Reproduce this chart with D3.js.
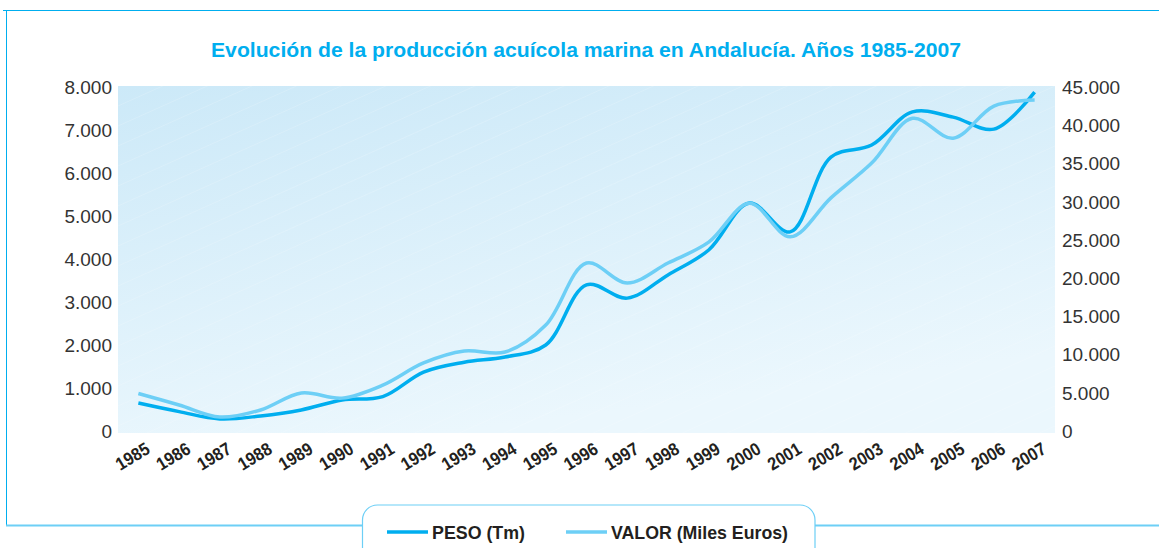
<!DOCTYPE html>
<meta charset="utf-8">
<style>
    body { margin: 0; background: #fff; }
    svg { display: block; }
    .narrow { font-family: "Liberation Sans", Arial, sans-serif; font-weight: bold; }
    .ytick { font-family: "Liberation Sans", Arial, sans-serif; font-size: 19px; fill: #333; }
</style>
<svg width="1159" height="548"></svg>
<script src="https://cdn.jsdelivr.net/npm/d3@7"></script>
<script>

    var years = ["1985", "1986", "1987", "1988", "1989", "1990", "1991", "1992", "1993", "1994", "1995", "1996",
        "1997", "1998", "1999", "2000", "2001", "2002", "2003", "2004", "2005", "2006", "2007"];

    // PESO (Tm), left axis
    var peso = [650, 450, 280, 350, 490, 720, 800, 1370, 1600, 1720, 2000, 3400,
        3090, 3630, 4210, 5300, 4630, 6370, 6650, 7420, 7300, 7020, 7880];

    // VALOR (Miles Euros), right axis
    var valor = [4900, 3400, 1830, 2750, 4970, 4300, 6000, 8900, 10460, 10330, 13860, 21970,
        19360, 21970, 24700, 29800, 25400, 30500, 35050, 40900, 38300, 42500, 43300];

    var leftTicks = [0, 1000, 2000, 3000, 4000, 5000, 6000, 7000, 8000];
    var rightTicks = [0, 5000, 10000, 15000, 20000, 25000, 30000, 35000, 40000, 45000];

    var svg = d3.select("svg");
    var fmt = function (v) { return v === 0 ? "0" : d3.format(",")(v).replace(/,/g, "."); };

    var x = d3.scaleBand().domain(years).range([118, 1055]);
    var yL = d3.scaleLinear().domain([0, 8000]).range([431, 87]);
    var yR = d3.scaleLinear().domain([0, 45000]).range([431, 87]);

    // frame
    svg.append("path")
        .attr("d", "M3,10.5H1159M6.5,10V525")
        .attr("fill", "none").attr("stroke", "#00aeef").attr("stroke-width", 1);
    svg.append("path")
        .attr("d", "M6,525.5H362M815,525.5H1159")
        .attr("fill", "none").attr("stroke", "#6dcff6").attr("stroke-width", 2);

    // title
    svg.append("text")
        .attr("class", "narrow")
        .attr("x", 211).attr("y", 57)
        .attr("textLength", 750).attr("lengthAdjust", "spacingAndGlyphs")
        .style("font-size", "21px")
        .attr("fill", "#00aeef")
        .text("Evolución de la producción acuícola marina en Andalucía. Años 1985-2007");

    // plot background
    var defs = svg.append("defs");
    var grad = defs.append("linearGradient").attr("id", "bg")
        .attr("x1", "0").attr("y1", "0").attr("x2", "0.35").attr("y2", "1");
    grad.append("stop").attr("offset", "0").attr("stop-color", "#cce9f8");
    grad.append("stop").attr("offset", "1").attr("stop-color", "#ebf7fd");
    defs.append("clipPath").attr("id", "clip")
        .append("rect").attr("x", 118).attr("y", 86).attr("width", 937).attr("height", 347);

    svg.append("rect")
        .attr("x", 118).attr("y", 86).attr("width", 937).attr("height", 347)
        .attr("fill", "url(#bg)");

    // faint diagonal stripes
    var stripes = svg.append("g").attr("clip-path", "url(#clip)");
    d3.range(-40, 60).forEach(function (i) {
        var y0 = 86 + i * 20;
        stripes.append("line")
            .attr("x1", 118).attr("y1", y0 + 420)
            .attr("x2", 1055).attr("y2", y0)
            .attr("stroke", "#ffffff").attr("stroke-opacity", 0.25).attr("stroke-width", 0.7);
    });

    // y axes
    svg.append("g").selectAll("text").data(leftTicks).enter().append("text")
        .attr("class", "ytick")
        .attr("x", 112).attr("y", function (d) { return yL(d); })
        .attr("dy", "0.36em").attr("text-anchor", "end")
        .text(fmt);

    svg.append("g").selectAll("text").data(rightTicks).enter().append("text")
        .attr("class", "ytick")
        .attr("x", 1062).attr("y", function (d) { return yR(d); })
        .attr("dy", "0.36em").attr("text-anchor", "start")
        .text(fmt);

    // x labels
    svg.append("g").selectAll("text").data(years).enter().append("text")
        .attr("class", "narrow")
        .style("font-size", "18px")
        .attr("fill", "#231f20")
        .attr("textLength", 36).attr("lengthAdjust", "spacingAndGlyphs")
        .attr("transform", function (d) {
            return "translate(" + (x(d) + x.bandwidth() / 2 - 18) + ",471) rotate(-31)";
        })
        .text(function (d) { return d; });

    // lines
    var cx = function (d, i) { return x(years[i]) + x.bandwidth() / 2; };
    var lineL = d3.line().x(cx).y(function (d) { return yL(d); }).curve(d3.curveCatmullRom.alpha(0.5));
    var lineR = d3.line().x(cx).y(function (d) { return yR(d); }).curve(d3.curveCatmullRom.alpha(0.5));

    svg.append("path").datum(peso)
        .attr("d", lineL)
        .attr("fill", "none").attr("stroke", "#00aeef").attr("stroke-width", 3.5);

    svg.append("path").datum(valor)
        .attr("d", lineR)
        .attr("fill", "none").attr("stroke", "#6dcff6").attr("stroke-width", 3.5);

    // legend
    svg.append("path")
        .attr("d", "M362.5,560V520a15,15 0 0 1 15,-15H800a15,15 0 0 1 15,15V560")
        .attr("fill", "#fff").attr("stroke", "#6dcff6").attr("stroke-width", 1.2);

    var legend = [
        { name: "PESO (Tm)", color: "#00aeef", x: 387, w: 93 },
        { name: "VALOR (Miles Euros)", color: "#6dcff6", x: 566, w: 177 }
    ];
    var lg = svg.append("g").selectAll("g").data(legend).enter().append("g");
    lg.append("line")
        .attr("x1", function (d) { return d.x; }).attr("x2", function (d) { return d.x + 41; })
        .attr("y1", 532).attr("y2", 532)
        .attr("stroke", function (d) { return d.color; }).attr("stroke-width", 3.5);
    lg.append("text")
        .attr("class", "narrow")
        .style("font-size", "19px")
        .attr("fill", "#231f20")
        .attr("x", function (d) { return d.x + 45; }).attr("y", 532)
        .attr("textLength", function (d) { return d.w; }).attr("lengthAdjust", "spacingAndGlyphs")
        .attr("dy", "0.36em")
        .text(function (d) { return d.name; });

</script>
